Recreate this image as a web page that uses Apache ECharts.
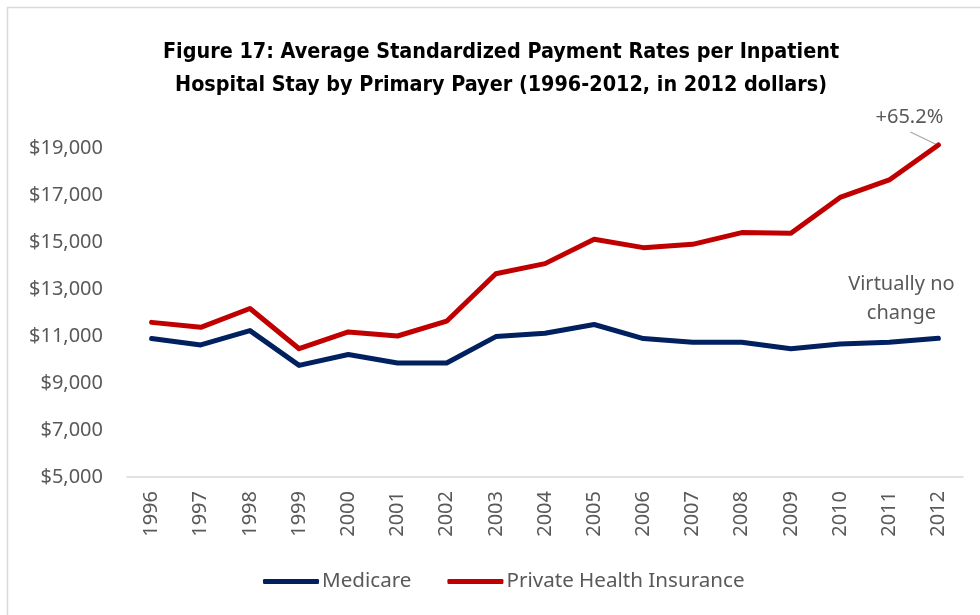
<!DOCTYPE html>
<html><head><meta charset="utf-8">
<script src="https://cdn.jsdelivr.net/npm/echarts@6/dist/echarts.min.js"></script>
<style>html,body{margin:0;padding:0;background:#fff}#c{width:980px;height:615px}</style>
</head><body><div id="c"></div>
<script>
const years = ['1996','1997','1998','1999','2000','2001','2002','2003','2004','2005','2006','2007','2008','2009','2010','2011','2012'];
const medicare = [10890,10620,11230,9750,10210,9850,9850,10975,11120,11490,10890,10730,10730,10460,10660,10730,10900];
const privateIns = [11580,11370,12170,10460,11175,11000,11630,13650,14080,15115,14760,14900,15400,15370,16895,17640,19130];
const yTicks = [5000,7000,9000,11000,13000,15000,17000,19000];
const annoGrowth = '+65.2%';
const annoFlat = 'Virtually no\nchange';

const FONT = '"Noto Sans", "Open Sans", sans-serif';
const chart = echarts.init(document.getElementById('c'));
chart.setOption({
  animation: false,
  backgroundColor: '#fff',
  title: {
    text: 'Figure 17: Average Standardized Payment Rates per Inpatient\nHospital Stay by Primary Payer (1996-2012, in 2012 dollars)',
    left: 496, top: 31, textAlign: 'center',
    textStyle: { fontFamily: '"Liberation Sans Narrow", "DejaVu Sans Condensed", sans-serif', fontWeight: 'bold', fontSize: 21.4, lineHeight: 33, color: '#000' }
  },
  legend: {
    left: 258, top: 566,
    itemWidth: 56, itemHeight: 5, itemGap: 36,
    icon: 'roundRect',
    textStyle: { fontFamily: FONT, fontSize: 20.6, color: '#595959', padding: [0,0,0,-2] },
    data: ['Medicare', 'Private Health Insurance']
  },
  grid: { left: 127, right: 17, top: 148, bottom: 138, containLabel: false },
  xAxis: {
    type: 'category', data: years, boundaryGap: true,
    axisLine: { lineStyle: { color: '#d9d9d9', width: 1.5 } },
    axisTick: { show: false },
    axisLabel: { rotate: 90, margin: 14, color: '#595959', fontFamily: FONT, fontSize: 20 }
  },
  yAxis: {
    type: 'value', min: 5000, max: 19000,
    axisLine: { show: false }, axisTick: { show: false },
    splitLine: { show: false },
    axisLabel: {
      customValues: yTicks, margin: 24, color: '#595959', fontFamily: FONT, fontSize: 20,
      formatter: v => '$' + v.toLocaleString('en-US')
    }
  },
  series: [
    { name: 'Medicare', type: 'line', data: medicare, symbol: 'none', clip: false,
      lineStyle: { color: '#002060', width: 5, cap: 'round', join: 'round' }, itemStyle: { color: '#002060' } },
    { name: 'Private Health Insurance', type: 'line', data: privateIns, symbol: 'none', clip: false,
      lineStyle: { color: '#C00000', width: 5, cap: 'round', join: 'round' }, itemStyle: { color: '#C00000' } }
  ]
});

const lastIdx = years.length - 1;
const pR = chart.convertToPixel({ gridIndex: 0 }, [lastIdx, privateIns[lastIdx]]);
const pB = chart.convertToPixel({ gridIndex: 0 }, [lastIdx, medicare[lastIdx]]);
chart.setOption({
  graphic: [
    { type: 'rect', shape: { x: 7.5, y: 7.5, width: 1200, height: 1200 }, style: { fill: 'none', stroke: '#d9d9d9', lineWidth: 1.5 }, silent: true },
    { type: 'text', x: pR[0] - 29, y: pR[1] - 28, style: { text: annoGrowth, fill: '#595959', font: '20px ' + FONT, textAlign: 'center', textVerticalAlign: 'middle' } },
    { type: 'line', shape: { x1: pR[0] - 28, y1: pR[1] - 13, x2: pR[0] - 1, y2: pR[1] }, style: { stroke: '#a6a6a6', lineWidth: 1.2 } },
    { type: 'text', x: pB[0] - 37, y: pB[1] - 40, style: { text: annoFlat, fill: '#595959', font: '20px ' + FONT, textAlign: 'center', textVerticalAlign: 'middle', lineHeight: 29 } }
  ]
});
</script></body></html>
